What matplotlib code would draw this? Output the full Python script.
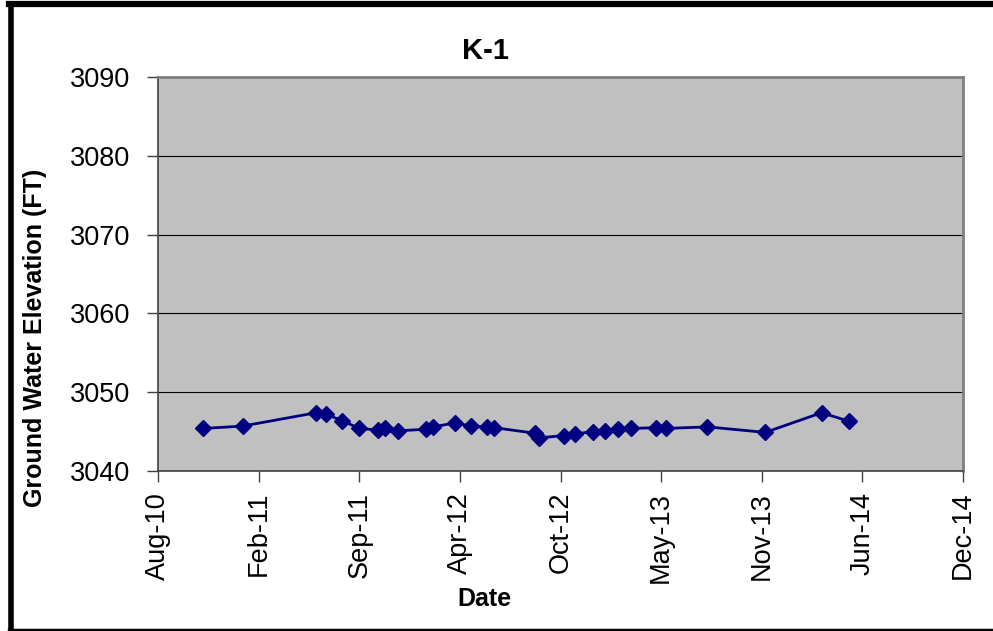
import datetime as dt

import matplotlib
matplotlib.use("Agg")
import matplotlib.pyplot as plt
import matplotlib.dates as mdates
from matplotlib.lines import Line2D

plt.rcParams["font.family"] = ["Liberation Sans", "DejaVu Sans"]

# K-1 ground water elevation readings
dates = [
    "2010-11-09", "2011-01-26", "2011-06-22", "2011-07-10", "2011-08-12",
    "2011-09-15", "2011-10-23", "2011-11-05", "2011-12-02", "2012-01-25",
    "2012-02-09", "2012-03-23", "2012-04-24", "2012-05-25", "2012-06-09",
    "2012-08-29", "2012-09-06", "2012-10-26", "2012-11-17", "2012-12-22",
    "2013-01-15", "2013-02-10", "2013-03-08", "2013-04-27", "2013-05-17",
    "2013-08-07", "2013-11-30", "2014-03-22", "2014-05-16",
]
elevation = [
    3045.4, 3045.7, 3047.4, 3047.2, 3046.4,
    3045.4, 3045.2, 3045.4, 3045.1, 3045.3,
    3045.6, 3046.1, 3045.7, 3045.6, 3045.5,
    3044.8, 3044.2, 3044.5, 3044.7, 3045.0,
    3045.1, 3045.3, 3045.4, 3045.5, 3045.4,
    3045.6, 3044.9, 3047.4, 3046.3,
]
y_ticks = [3040, 3050, 3060, 3070, 3080, 3090]

# date axis: 200-day major unit starting mid Aug 2010
x_start = dt.date(2010, 8, 11)
x_step = 200
n_steps = 8

x = [dt.date.fromisoformat(d) for d in dates]

fig = plt.figure(figsize=(9.93, 6.31), dpi=100)
ax = fig.add_axes([158 / 993, 1 - 471 / 631, (963 - 158) / 993, (471 - 77) / 631])
ax.set_facecolor("#c0c0c0")

ax.plot(x, elevation, color="#000080", lw=2.0, marker="D", ms=8,
        mfc="#000080", mec="#000080", zorder=3)

x_ticks = [x_start + dt.timedelta(days=x_step * k) for k in range(n_steps + 1)]
ax.set_xlim(x_ticks[0], x_ticks[-1])
ax.set_xticks(x_ticks)
ax.xaxis.set_major_formatter(mdates.DateFormatter("%b-%y"))
ax.set_ylim(y_ticks[0], y_ticks[-1])
ax.set_yticks(y_ticks)
ax.yaxis.grid(True, color="#000000", lw=0.8)
ax.set_axisbelow(True)

ax.tick_params(axis="both", direction="out", length=8, width=1,
               color="#404040", labelsize=19.5)
ax.tick_params(axis="y", pad=12)
ax.tick_params(axis="x", pad=7, labelrotation=90)

for side in ("top", "right"):
    ax.spines[side].set_color("#808080")
    ax.spines[side].set_linewidth(2)
for side in ("left", "bottom"):
    ax.spines[side].set_color("#404040")
    ax.spines[side].set_linewidth(1.2)

fig.text(485 / 993, 1 - 51 / 631, "K-1", ha="center", va="center",
         fontsize=21, fontweight="bold")
fig.text(484 / 993, 1 - 599 / 631, "Date", ha="center", va="center",
         fontsize=18, fontweight="bold")
fig.text(35 / 993, 1 - 338 / 631, "Ground Water Elevation (FT)", ha="center",
         va="center", rotation=90, fontsize=18, fontweight="bold")

# outer chart frame (right edge runs off the canvas)
frame = dict(color="black", transform=fig.transFigure)
fig.add_artist(Line2D([10.5 / 993, 10.5 / 993], [0, 1 - 4 / 631], lw=4, **frame))
fig.add_artist(Line2D([8.5 / 993, 1], [1 - 3.5 / 631, 1 - 3.5 / 631], lw=4.5, **frame))
fig.add_artist(Line2D([8.5 / 993, 1], [1.5 / 631, 1.5 / 631], lw=2.5, **frame))

fig.savefig("out.png", dpi=100)
